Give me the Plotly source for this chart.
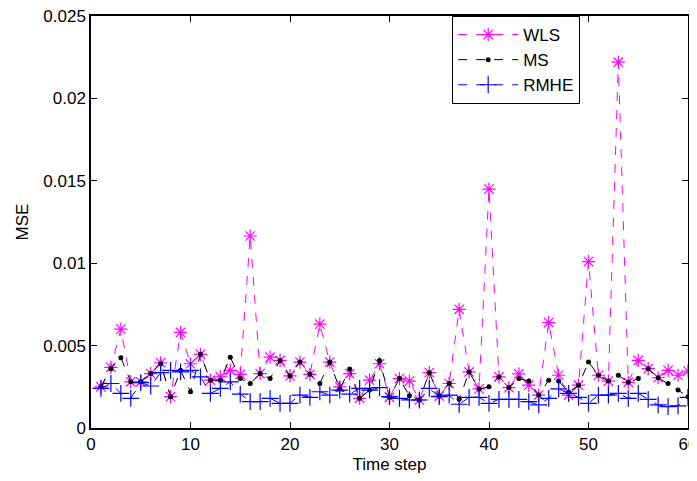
import plotly.graph_objects as go

steps = list(range(1, 61))

wls = [0.0025, 0.00368, 0.0060, 0.0028, 0.0028, 0.0033, 0.00396, 0.0019, 0.0058, 0.0039,
       0.00447, 0.0029, 0.0031, 0.0035, 0.00326, 0.01165, 0.0033, 0.0043, 0.0041, 0.00316,
       0.0040, 0.00326, 0.0063, 0.0040, 0.0025, 0.0033, 0.0018, 0.0029, 0.0039, 0.00186,
       0.0030, 0.00285, 0.0017, 0.00336, 0.00194, 0.0027, 0.0072, 0.0034, 0.00237, 0.01450,
       0.0031, 0.00245, 0.00328, 0.0026, 0.0020, 0.0064, 0.0032, 0.0020, 0.0026, 0.0101,
       0.0032, 0.00285, 0.0222, 0.00277, 0.0041, 0.0036, 0.00305, 0.0035, 0.0032, 0.00346]

ms = [0.0025, 0.0036, 0.00427, 0.0028, 0.0028, 0.0033, 0.0039, 0.0019, 0.0035, 0.0022,
      0.00447, 0.0029, 0.0029, 0.0043, 0.0030, 0.0027, 0.0033, 0.0030, 0.0041, 0.00316,
      0.0040, 0.00326, 0.0027, 0.0040, 0.00237, 0.00358, 0.0018, 0.0023, 0.0041, 0.00186,
      0.0030, 0.00196, 0.0017, 0.00336, 0.00194, 0.0027, 0.00174, 0.0034, 0.00237, 0.0025,
      0.0031, 0.00245, 0.0030, 0.00285, 0.0020, 0.0029, 0.00285, 0.00217, 0.0026, 0.0040,
      0.0032, 0.00285, 0.0032, 0.00277, 0.0030, 0.0036, 0.00305, 0.0027, 0.0023, 0.0019]

rmhe = [0.0024, 0.0027, 0.0021, 0.0018, 0.00275, 0.00255, 0.00336, 0.0035, 0.0034, 0.0035,
        0.0031, 0.0021, 0.0024, 0.0028, 0.00206, 0.0016, 0.0016, 0.0018, 0.0015, 0.0015,
        0.0020, 0.00186, 0.0022, 0.0020, 0.0023, 0.00206, 0.0024, 0.0023, 0.00245, 0.0019,
        0.0018, 0.0017, 0.0017, 0.0024, 0.0019, 0.0020, 0.00144, 0.00186, 0.00186, 0.0015,
        0.00174, 0.00174, 0.00174, 0.0016, 0.0014, 0.0018, 0.00237, 0.0021, 0.00186, 0.0015,
        0.0020, 0.0020, 0.0021, 0.0018, 0.0021, 0.00174, 0.0014, 0.0013, 0.00134, 0.00186]

x_ticks = [0, 10, 20, 30, 40, 50, 60]
y_ticks = [0, 0.005, 0.01, 0.015, 0.02, 0.025]
y_tick_labels = ["0", "0.005", "0.01", "0.015", "0.02", "0.025"]

font = "Liberation Sans, Arial, sans-serif"
fs = 17

fig = go.Figure()
fig.add_trace(go.Scatter(
    x=steps, y=wls, name="WLS", mode="lines+markers",
    line=dict(color="#FF00FF", width=1, dash="dash"),
    marker=dict(symbol="asterisk-open", size=11, color="#FF00FF",
                line=dict(color="#FF00FF", width=1.2))))
fig.add_trace(go.Scatter(
    x=steps, y=ms, name="MS", mode="lines+markers",
    line=dict(color="black", width=1, dash="dash"),
    marker=dict(symbol="circle", size=5, color="black")))
fig.add_trace(go.Scatter(
    x=steps, y=rmhe, name="RMHE", mode="lines+markers",
    line=dict(color="#0000FF", width=1, dash="dash"),
    marker=dict(symbol="cross-thin-open", size=12, color="#0000FF",
                line=dict(color="#0000FF", width=1.2))))

axis_common = dict(showline=True, linecolor="black", linewidth=1.5, mirror="ticks",
                   ticks="inside", ticklen=6, tickcolor="black", showgrid=False,
                   zeroline=False, automargin=False, ticklabeloverflow="allow",
                   tickfont=dict(family=font, size=fs, color="black"))

# page body has an 8px default margin, so the figure is shifted by 8px
fig.update_layout(
    width=689, height=473,
    margin=dict(l=83, r=9, t=8, b=53),
    paper_bgcolor="white", plot_bgcolor="white",
    font=dict(family=font, size=fs, color="black"),
    xaxis=dict(range=[0, 60], tickvals=x_ticks,
               title=dict(text="Time step", font=dict(family=font, size=fs), standoff=5),
               **axis_common),
    yaxis=dict(range=[0, 0.025], tickvals=y_ticks, ticktext=y_tick_labels,
               title=dict(text="MSE", font=dict(family=font, size=fs), standoff=10),
               **axis_common),
    legend=dict(x=0.605, y=1.0, xanchor="left", yanchor="top",
                bgcolor="white", bordercolor="black", borderwidth=1,
                font=dict(family=font, size=fs, color="black"),
                itemwidth=60, tracegroupgap=0),
    showlegend=True,
)

fig.write_html("out.html")
